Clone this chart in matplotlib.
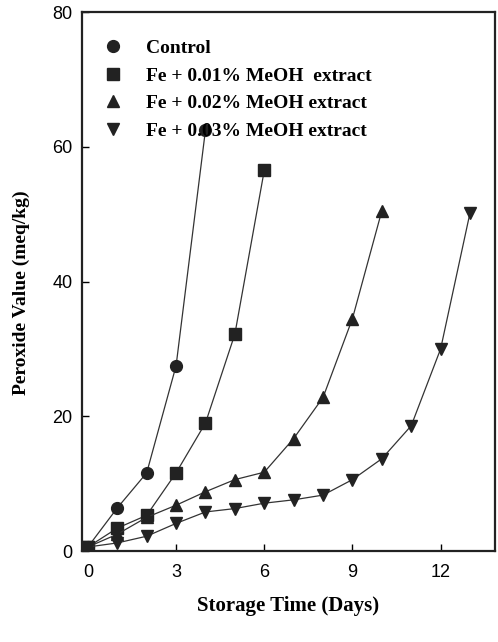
import matplotlib.pyplot as plt
from matplotlib.lines import Line2D

# storage time (days) and peroxide values (meq/kg)
days_control = [0, 1, 2, 3, 4]
pv_control = [0.6, 6.4, 11.6, 27.5, 62.5]

days_fe01 = [0, 1, 2, 3, 4, 5, 6]
pv_fe01 = [0.6, 3.4, 5.3, 11.6, 19.0, 32.2, 56.5]

days_fe02 = [0, 1, 2, 3, 4, 5, 6, 7, 8, 9, 10]
pv_fe02 = [0.6, 2.5, 5.0, 6.8, 8.8, 10.6, 11.7, 16.7, 22.8, 34.5, 50.5]

days_fe03 = [0, 1, 2, 3, 4, 5, 6, 7, 8, 9, 10, 11, 12, 13]
pv_fe03 = [0.6, 1.2, 2.2, 4.1, 5.8, 6.3, 7.1, 7.6, 8.3, 10.6, 13.7, 18.6, 30.0, 50.2]

labels = ['Control', 'Fe + 0.01% MeOH  extract',
          'Fe + 0.02% MeOH extract', 'Fe + 0.03% MeOH extract']
markers = ['o', 's', '^', 'v']

serif = ['Liberation Serif', 'DejaVu Serif']
sans = ['Liberation Sans', 'DejaVu Sans']

fig = plt.figure(figsize=(4.98, 6.42), dpi=100)
ax = fig.add_axes([0.1647, 0.1417, 0.8293, 0.8396])

mk_color = '#222222'
series = [(days_control, pv_control), (days_fe01, pv_fe01),
          (days_fe02, pv_fe02), (days_fe03, pv_fe03)]
for (x, y), m in zip(series, markers):
    ax.plot(x, y, color='#333333', lw=0.9, marker=m, markersize=8.5,
            markerfacecolor=mk_color, markeredgecolor=mk_color)

ax.set_xlim(-0.2, 13.85)
ax.set_ylim(0, 80)
ax.set_xticks([0, 3, 6, 9, 12])
ax.set_yticks([0, 20, 40, 60, 80])
ax.tick_params(direction='in', length=5, width=1, labelsize=13)
ax.tick_params(axis='x', pad=9)
ax.tick_params(axis='y', pad=7)
for lab in ax.get_xticklabels() + ax.get_yticklabels():
    lab.set_family(sans)
for sp in ax.spines.values():
    sp.set_linewidth(1.6)
    sp.set_color('#222222')

ax.set_xlabel('Storage Time (Days)', family=serif, fontweight='bold',
              fontsize=15, labelpad=11)
ax.set_ylabel('Peroxide Value (meq/kg)', family=serif, fontweight='bold',
              fontsize=14, labelpad=12)
ax.yaxis.set_label_coords(-0.125, 0.48)

handles = [Line2D([], [], linestyle='None', marker=m, markersize=8.5,
                  color=mk_color) for m in markers]
ax.legend(handles, labels, loc='upper left', frameon=False,
          bbox_to_anchor=(-0.005, 0.982), handlelength=1.6, handletextpad=0.9,
          labelspacing=0.52, prop={'family': serif, 'weight': 'bold', 'size': 14})

fig.savefig('out.png', dpi=100)
